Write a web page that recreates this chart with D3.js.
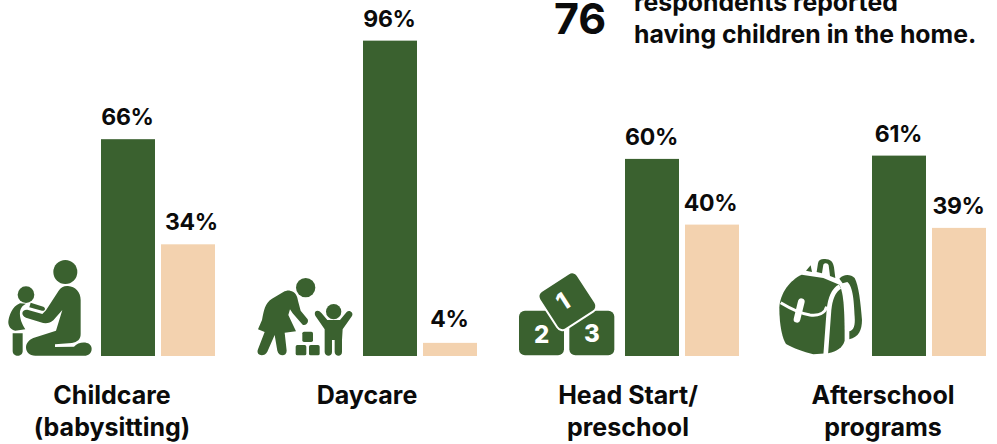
<!DOCTYPE html>
<html><head><meta charset="utf-8">
<script src="https://cdn.jsdelivr.net/npm/d3@7/dist/d3.min.js"></script>
<style>html,body{margin:0;padding:0;background:#fff;overflow:hidden}
svg{display:block}text{font-family:Inter,sans-serif;fill:#0b0b0b}</style></head>
<body><div id="chart"></div>
<script>
const categories = ["Childcare (babysitting)", "Daycare", "Head Start/ preschool", "Afterschool programs"];
const categoryLines = [["Childcare","(babysitting)"],["Daycare"],["Head Start/","preschool"],["Afterschool","programs"]];
const seriesNames = ["Yes","No"];
const seriesYes = [66, 96, 60, 61];
const seriesNo = [34, 4, 40, 39];
const headlineNumber = "76";
const headlineLines = ["respondents reported","having children in the home."];

const W=997,H=444,green="#3a612f",tan="#f3d2af";
const svg=d3.select("#chart").append("svg").attr("width",W).attr("height",H).attr("viewBox",[0,0,W,H]);
const y=d3.scaleLinear().domain([0,100]).range([356,27.5]);
const groupX=d3.scaleOrdinal().domain(categories).range([101,363,625,872]);
const labelX=d3.scaleOrdinal().domain(categories).range([112,367,628,883]);
const rows=categories.map((c,i)=>({c,vals:[{s:"Yes",v:seriesYes[i],i},{s:"No",v:seriesNo[i],i}],lines:categoryLines[i]}));
const nudgeX=d=>d.s==="No"&&d.i===0?4:(d.s==="No"&&d.i===2?-1:0);
const nudgeY=d=>d.s==="No"&&d.i===1?-2:0;

const g=svg.selectAll("g.group").data(rows).join("g").attr("class","group").attr("transform",d=>`translate(${groupX(d.c)},0)`);
g.selectAll("rect").data(d=>d.vals).join("rect")
 .attr("x",d=>d.s==="Yes"?0:60).attr("width",54)
 .attr("y",d=>y(d.v)).attr("height",d=>y(0)-y(d.v))
 .attr("fill",d=>d.s==="Yes"?green:tan);
g.selectAll("text").data(d=>d.vals).join("text")
 .attr("x",d=>(d.s==="Yes"?0:60)+26.5+nudgeX(d)).attr("y",d=>y(d.v)-14+nudgeY(d))
 .attr("text-anchor","middle").attr("font-size",23).attr("font-weight",700).attr("letter-spacing",-0.3).text(d=>d.v+"%");

const lab=svg.selectAll("text.cat").data(rows).join("text").attr("class","cat")
 .attr("text-anchor","middle").attr("font-size",25).attr("font-weight",700);
lab.selectAll("tspan").data(d=>d.lines.map(l=>({l,c:d.c}))).join("tspan")
 .attr("x",d=>labelX(d.c)).attr("y",(d,i)=>404+i*32).text(d=>d.l);

svg.append("text").attr("x",554).attr("y",34).attr("font-size",43).attr("font-weight",700).text(headlineNumber);
svg.selectAll("text.hl").data(headlineLines).join("text").attr("class","hl")
 .attr("x",634).attr("y",(d,i)=>11+i*32).attr("font-size",24.8).attr("font-weight",700).text(d=>d);

function icon(ox,oy){return svg.append("g").attr("transform",`translate(${ox},${oy}) scale(0.3333)`).attr("fill",green);}
const a=icon(0,250);
a.append("circle").attr("cx",196).attr("cy",66).attr("r",36);
a.append("circle").attr("cx",78).attr("cy",134).attr("r",25);
a.append("path").attr("d","M204 108C226 110 242 126 242 150L242 252C242 268 232 276 216 279L165 283L165 291L222 290C236 272 275 272 275 296C275 310 265 317 253 317L106 317C88 317 78 306 78 292C78 279 88 269 100 264L168 242L187 180L160 211C150 220 136 222 122 217L78 203C62 196 64 178 82 179L127 192L138 181L176 122C182 113 192 107 204 108Z");
a.append("path").attr("d","M60 160L78 161C70 165 62 172 60 184C58 205 66 222 76 238L46 242C32 240 24 228 25 214C28 195 36 170 60 160Z");
a.append("path").attr("d","M92 158L130 170C138 174 136 184 126 182L88 172Z");
a.append("path").attr("d","M38 250L68 250L68 303C68 322 38 322 38 303Z");

const b=icon(240,260);
b.append("circle").attr("cx",197).attr("cy",83).attr("r",29);
b.append("circle").attr("cx",281).attr("cy",155).attr("r",23);
b.append("path").attr("d","M150 92C166 94 172 108 174 122L182 152L203 178C207 188 198 198 188 194L158 160L150 148L145 165L168 214L134 218L140 272C140 290 116 290 112 272L104 225L82 275C74 292 46 288 54 268L74 216L54 208L66 180C72 150 74 130 96 116L130 96C136 93 143 91 150 92Z");
b.append("path").attr("d","M232 152C238 152 242 156 245 160L262 180L300 180L320 156C328 148 342 158 336 168L308 208L306 240L306 276C306 292 284 290 284 276L284 240L276 240L276 276C276 292 254 290 254 276L254 208L228 170C222 162 224 152 232 152Z");
[[187,215],[167,255],[207,255]].forEach(([x,yy])=>b.append("rect").attr("x",x).attr("y",yy).attr("width",32).attr("height",31).attr("rx",5));

const c=icon(505,260);
c.append("rect").attr("x",42).attr("y",152).attr("width",135).attr("height",134).attr("rx",18);
c.append("rect").attr("x",193).attr("y",152).attr("width",135).attr("height",134).attr("rx",18);
c.append("g").attr("transform","translate(186,122) rotate(-33)").append("rect").attr("x",-65).attr("y",-63).attr("width",130).attr("height",130).attr("rx",16).attr("stroke","#fff").attr("stroke-width",12).attr("paint-order","stroke");
const num=(t,x,yy,r)=>c.append("text").attr("transform",`translate(${x},${yy}) rotate(${r})`).attr("text-anchor","middle").attr("font-size",72).attr("font-weight",800).style("fill","#fff").text(t);
num("2",110,248,0);num("3",261,246,0);num("1",187,146,-33);

const e=icon(760,250);
e.append("path").attr("d","M125 74L190 84L238 104C250 125 254 170 254 272C248 292 232 304 204 310L160 313C130 305 100 295 78 282C68 268 58 230 58 172C60 130 90 90 125 74Z");
e.append("path").attr("d","M62 158C90 175 120 190 150 195C175 198 195 190 200 170").attr("fill","none").attr("stroke","#fff").attr("stroke-width",9);
e.append("path").attr("d","M124 155L111 208").attr("fill","none").attr("stroke","#fff").attr("stroke-width",20).attr("stroke-linecap","round");
e.append("path").attr("d","M197 316L207 180C210 150 218 122 240 110").attr("fill","none").attr("stroke","#fff").attr("stroke-width",14);
e.append("path").attr("d","M238 86C250 72 272 72 284 84C296 105 302 160 306 210C306 240 296 262 268 268L268 244C282 240 286 225 284 200C282 160 280 110 262 96L248 100Z");
e.append("path").attr("d","M170 66L174 40C176 28 186 26 200 28C216 30 220 40 222 52L226 84L210 78L206 46C204 38 194 38 190 44L186 70Z");
e.append("path").attr("d","M138 62L152 46L156 66Z");
</script></body></html>
